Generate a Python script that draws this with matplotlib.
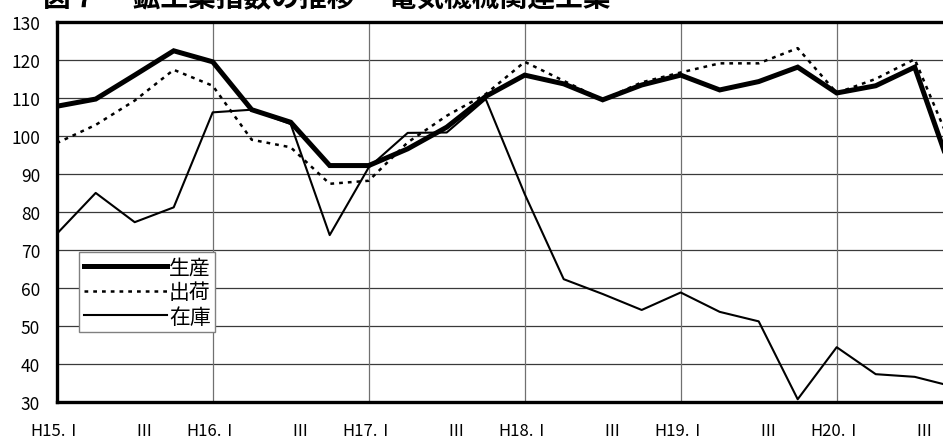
import numpy as np
import matplotlib
matplotlib.use("Agg")
import matplotlib.pyplot as plt
import matplotlib.transforms as mtransforms

plt.rcParams['font.family'] = ['Noto Sans CJK JP', 'DejaVu Sans']

# quarters H15.I .. H20.IV
quarters = np.arange(24)
tick_labels = ['H15.Ⅰ', 'Ⅲ', 'H16.Ⅰ', 'Ⅲ', 'H17.Ⅰ', 'Ⅲ',
               'H18.Ⅰ', 'Ⅲ', 'H19.Ⅰ', 'Ⅲ', 'H20.Ⅰ', 'Ⅲ']

production = [107.9, 109.8, 116.1, 122.5, 119.6, 107.0, 103.7, 92.3,
              92.3, 96.7, 102.4, 110.5, 116.1, 113.8, 109.6, 113.5,
              116.1, 112.2, 114.4, 118.2, 111.4, 113.3, 118.2, 89.0]
shipment = [98.2, 103.0, 109.4, 117.5, 113.3, 99.1, 97.1, 87.5,
            88.3, 98.4, 105.4, 111.1, 119.6, 114.6, 109.6, 114.2,
            116.8, 119.2, 119.2, 123.2, 111.4, 115.1, 120.3, 96.0]
inventory = [74.3, 85.1, 77.4, 81.3, 106.3, 107.0, 103.2, 74.0,
             91.8, 100.9, 101.0, 109.8, 84.8, 62.4, 58.5, 54.3,
             58.9, 53.8, 51.3, 30.8, 44.5, 37.4, 36.7, 34.1]

W, H = 943, 439
fig = plt.figure(figsize=(W / 100, H / 100), dpi=100)
# the plot runs past the right edge of the picture, like the original
ax = fig.add_axes([56.7 / W, 35.7 / H, 897 / W, 380 / H])

ax.plot(quarters, production, color='black', lw=3.6, solid_joinstyle='miter',
        label='生産', zorder=5)
ax.plot(quarters, shipment, color='black', lw=1.8, linestyle=(0, (1.5, 2.0)),
        label='出荷', zorder=4)
ax.plot(quarters, inventory, color='black', lw=1.5, label='在庫', zorder=3)

ax.set_xlim(0, 23)
ax.set_ylim(30, 130)
ax.set_yticks(np.arange(30, 131, 10))
ax.set_xticks(np.arange(0, 24, 2))
ax.set_xticklabels(tick_labels)

for y in range(40, 130, 10):
    ax.axhline(y, color='#3a3a3a', lw=0.9, zorder=1)
for x in range(4, 24, 4):
    ax.axvline(x, color='#707070', lw=0.9, zorder=1)

for s in ['left', 'bottom', 'top']:
    ax.spines[s].set_linewidth(2.4)
ax.spines['right'].set_visible(False)
ax.tick_params(length=0)
ax.tick_params(axis='y', pad=12, labelsize=12.5)
ax.tick_params(axis='x', pad=14, labelsize=12)

# roman numeral labels sit a bit right of their tick
offset = mtransforms.ScaledTranslation(9 / 100, 0, fig.dpi_scale_trans)
for lab in ax.get_xticklabels():
    if not lab.get_text().startswith('H'):
        lab.set_transform(lab.get_transform() + offset)

leg = ax.legend(loc='upper left', bbox_to_anchor=(0.0249, 0.3955),
                borderaxespad=0, fancybox=False, edgecolor='#808080',
                framealpha=1, fontsize=15, handlelength=4.0,
                handletextpad=0.1, labelspacing=0.12, borderpad=0.22)
leg.get_frame().set_linewidth(1.0)

fig.text(43 / W, 0.986, '図７\u3000 鉱工業指数の推移\u3000 電気機械関連工業',
         fontsize=20, fontweight='bold', va='baseline', ha='left')

fig.savefig('out.png', dpi=100)
